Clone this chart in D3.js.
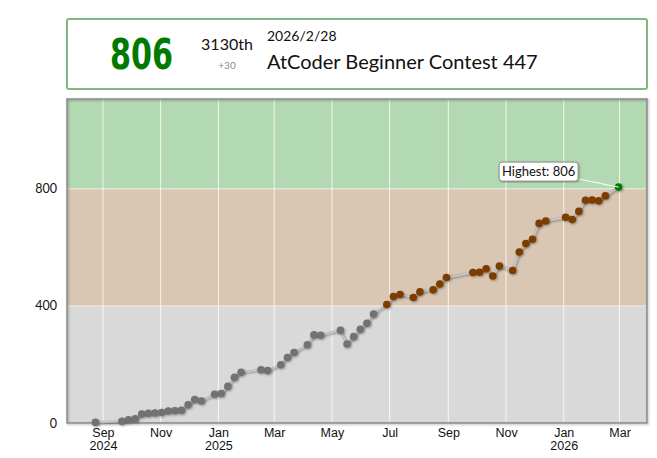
<!DOCTYPE html>
<html>
<head>
<meta charset="utf-8">
<script src="https://cdn.jsdelivr.net/npm/d3@7"></script>
<style>
  html, body { margin: 0; padding: 0; background: #fff; }
  svg { display: block; font-family: Lato, "Open Sans", sans-serif; }
</style>
</head>
<body>
<svg id="chart" width="657" height="458"></svg>
<script>
// ---- data ----
const contestDates = [
  "2024-08-24","2024-09-21","2024-09-28","2024-10-05","2024-10-12","2024-10-19","2024-10-26",
  "2024-11-02","2024-11-09","2024-11-16","2024-11-23","2024-11-30","2024-12-07","2024-12-14",
  "2024-12-28","2025-01-04","2025-01-11","2025-01-18","2025-01-25","2025-02-15","2025-02-22",
  "2025-03-08","2025-03-15","2025-03-22","2025-04-05","2025-04-12","2025-04-19","2025-05-10",
  "2025-05-17","2025-05-24","2025-05-31","2025-06-07","2025-06-14","2025-06-28","2025-07-05",
  "2025-07-12","2025-07-26","2025-08-02","2025-08-16","2025-08-23","2025-08-30","2025-09-27",
  "2025-10-04","2025-10-11","2025-10-18","2025-10-25","2025-11-08","2025-11-15","2025-11-22",
  "2025-11-29","2025-12-06","2025-12-13","2026-01-03","2026-01-10","2026-01-17","2026-01-24",
  "2026-01-31","2026-02-07","2026-02-14","2026-02-28"
];
const ratings = [
  2, 6, 11, 14, 31, 33, 34,
  36, 41, 42, 43, 62, 80, 75,
  98, 101, 125, 156, 173, 182, 179,
  199, 224, 241, 267, 301, 300, 317,
  270, 295, 320, 341, 372, 405, 432,
  439, 429, 448, 455, 475, 497, 514,
  515, 527, 502, 536, 521, 584, 613,
  628, 682, 690, 703, 695, 723, 761,
  762, 759, 776, 806
];
const yTicks = [0, 400, 800];
const bandThresholds = [0, 400, 800, 1200];
const bandColors = ["#d9d9d9", "#d9c6b3", "#b3d9b3"];
const dotColors = ["#727272", "#7c3e00", "#007a00"];
const xDomain = ["2024-07-25", "2026-03-30"];
const yMax = 1107;

const latestRank = "3130th";
const latestDiff = "+30";
const latestDate = "2026/2/28";
const latestContest = "AtCoder Beginner Contest 447";

// ---- layout ----
const plot = { left: 67, top: 99, right: 647, bottom: 423 };
const svg = d3.select("#chart");
const parse = d3.utcParse("%Y-%m-%d");
const data = contestDates.map((d, i) => ({ date: parse(d), rating: ratings[i] }));

const x = d3.scaleUtc().domain(xDomain.map(parse)).range([plot.left, plot.right]);
const y = d3.scaleLinear().domain([0, yMax]).range([plot.bottom, plot.top]);

function colorIndex(r) {
  let idx = 0;
  for (let i = 0; i < bandThresholds.length - 1; i++) if (r >= bandThresholds[i]) idx = i;
  return idx;
}

// defs
const defs = svg.append("defs");
const sh = defs.append("filter").attr("id", "shadow").attr("x", "-50%").attr("y", "-50%").attr("width", "200%").attr("height", "200%");
sh.append("feDropShadow").attr("dx", 1).attr("dy", 1).attr("stdDeviation", 1).attr("flood-color", "#000").attr("flood-opacity", 0.35);
const sh2 = defs.append("filter").attr("id", "boxshadow").attr("x", "-10%").attr("y", "-10%").attr("width", "120%").attr("height", "120%");
sh2.append("feDropShadow").attr("dx", 1).attr("dy", 1).attr("stdDeviation", 1).attr("flood-color", "#000").attr("flood-opacity", 0.3);
defs.append("clipPath").attr("id", "clip").append("rect")
  .attr("x", plot.left).attr("y", plot.top)
  .attr("width", plot.right - plot.left).attr("height", plot.bottom - plot.top);

// ---- header ----
const header = svg.append("g");
header.append("rect")
  .attr("x", 67).attr("y", 19).attr("width", 580).attr("height", 70)
  .attr("rx", 2).attr("fill", "#fff").attr("stroke", "#80b880").attr("stroke-width", 2);
header.append("text")
  .attr("x", 110).attr("y", 68.5)
  .attr("textLength", 63).attr("lengthAdjust", "spacingAndGlyphs")
  .style("font-family", "'DejaVu Sans', sans-serif")
  .style("font-weight", "bold").style("font-size", "42px")
  .attr("fill", dotColors[colorIndex(ratings[ratings.length - 1])])
  .text(ratings[ratings.length - 1]);
header.append("text").attr("x", 227).attr("y", 50).attr("text-anchor", "middle")
  .style("font-size", "16px").attr("fill", "#111").text(latestRank);
header.append("text").attr("x", 227).attr("y", 69).attr("text-anchor", "middle")
  .style("font-size", "10px").attr("fill", "#888").text(latestDiff);
header.append("text").attr("x", 267).attr("y", 41)
  .style("font-size", "14px").attr("fill", "#111").text(latestDate);
header.append("text").attr("x", 267).attr("y", 69)
  .style("font-size", "20px").attr("fill", "#111").text(latestContest);

// ---- plot background bands ----
const g = svg.append("g");
const bands = bandColors.map((c, i) => ({ lo: bandThresholds[i], hi: bandThresholds[i + 1], color: c }));
g.append("g").attr("clip-path", "url(#clip)")
  .selectAll("rect").data(bands).join("rect")
  .attr("x", plot.left).attr("width", plot.right - plot.left)
  .attr("y", d => y(Math.min(d.hi, yMax)))
  .attr("height", d => y(d.lo) - y(Math.min(d.hi, yMax)))
  .attr("fill", d => d.color);

// grid lines
const xTicks = x.ticks(d3.utcMonth.every(2));
g.append("g").selectAll("line").data(xTicks).join("line")
  .attr("x1", d => x(d)).attr("x2", d => x(d))
  .attr("y1", plot.top).attr("y2", plot.bottom)
  .attr("stroke", "#fff").attr("stroke-opacity", 0.8).attr("stroke-width", 1);
g.append("g").selectAll("line").data(yTicks.filter(v => v > 0)).join("line")
  .attr("x1", plot.left).attr("x2", plot.right)
  .attr("y1", d => y(d)).attr("y2", d => y(d))
  .attr("stroke", "#fff").attr("stroke-opacity", 0.6).attr("stroke-width", 1);

// plot border
g.append("rect")
  .attr("x", plot.left).attr("y", plot.top)
  .attr("width", plot.right - plot.left).attr("height", plot.bottom - plot.top)
  .attr("fill", "none").attr("stroke", "#8a8a8a").attr("stroke-width", 1.5)
  .attr("filter", "url(#boxshadow)");

// ---- axes ----
const fmtMonth = d3.utcFormat("%b");
const xAxis = d3.axisBottom(x).tickValues(xTicks).tickSize(0).tickFormat("");
const xg = svg.append("g").attr("transform", `translate(0,${plot.bottom})`).call(xAxis);
xg.select(".domain").remove();
xg.selectAll(".tick").each(function(d, i) {
  const t = d3.select(this);
  t.append("text").attr("y", 14).attr("text-anchor", "middle")
    .style("font-size", "12.5px").attr("fill", "#111").text(fmtMonth(d));
  if (i === 0 || d.getUTCMonth() === 0) {
    t.append("text").attr("y", 27).attr("text-anchor", "middle")
      .style("font-size", "12.5px").attr("fill", "#111").text(d.getUTCFullYear());
  }
});

const yAxis = d3.axisLeft(y).tickValues(yTicks).tickSize(0).tickPadding(10);
const yg = svg.append("g").attr("transform", `translate(${plot.left},0)`).call(yAxis);
yg.select(".domain").remove();
yg.selectAll("text").style("font-size", "12.5px").style("font-family", "Lato, sans-serif").attr("fill", "#111");

// ---- line & points ----
const line = d3.line().x(d => x(d.date)).y(d => y(d.rating));
g.append("path").datum(data)
  .attr("d", line).attr("fill", "none")
  .attr("stroke", "#aaa").attr("stroke-width", 2)
  .attr("filter", "url(#shadow)");
g.append("path").datum(data)
  .attr("d", line).attr("fill", "none")
  .attr("stroke", "#ddd").attr("stroke-width", 0.8);

g.append("g").selectAll("circle").data(data).join("circle")
  .attr("cx", d => x(d.date)).attr("cy", d => y(d.rating)).attr("r", 3.8)
  .attr("fill", d => dotColors[colorIndex(d.rating)])
  .attr("filter", "url(#shadow)");

// ---- highest label ----
const best = data.reduce((a, b) => (b.rating >= a.rating ? b : a));
const bx = x(best.date), by = y(best.rating);
const lbl = g.append("g");
lbl.append("line")
  .attr("x1", bx).attr("y1", by).attr("x2", bx - 40).attr("y2", by - 8)
  .attr("stroke", "#fff").attr("stroke-width", 1);
lbl.append("rect")
  .attr("x", bx - 119.5).attr("y", by - 25).attr("width", 79).attr("height", 19)
  .attr("rx", 3).attr("fill", "#fff").attr("stroke", "#888").attr("stroke-width", 1)
  .attr("filter", "url(#boxshadow)");
lbl.append("text")
  .attr("x", bx - 80).attr("y", by - 11).attr("text-anchor", "middle")
  .style("font-size", "13px").attr("fill", "#111")
  .text("Highest: " + best.rating);
</script>
</body>
</html>
